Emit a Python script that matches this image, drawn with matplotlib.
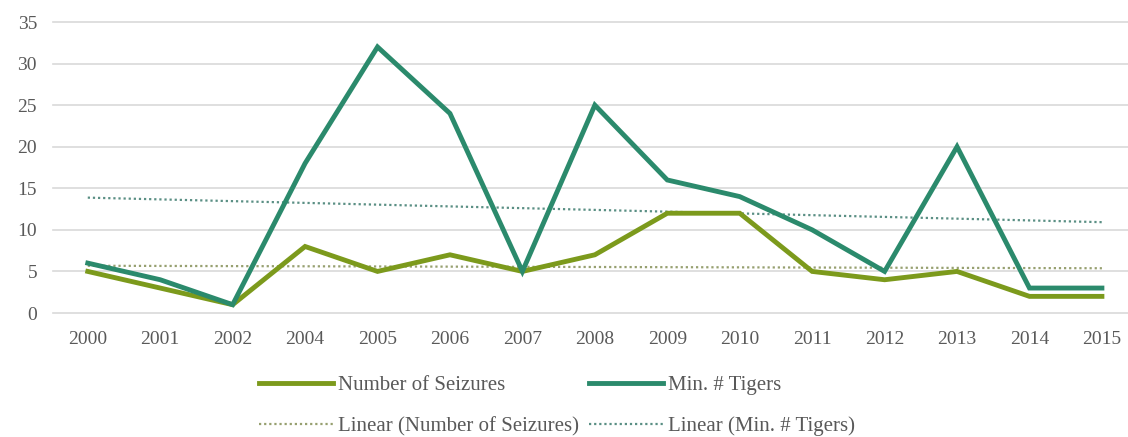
import matplotlib
matplotlib.use("Agg")
import matplotlib.pyplot as plt
import numpy as np

years = ["2000", "2001", "2002", "2004", "2005", "2006", "2007", "2008",
         "2009", "2010", "2011", "2012", "2013", "2014", "2015"]
seizures = [5, 3, 1, 8, 5, 7, 5, 7, 12, 12, 5, 4, 5, 2, 2]
tigers = [6, 4, 1, 18, 32, 24, 5, 25, 16, 14, 10, 5, 20, 3, 3]
y_ticks = [0, 5, 10, 15, 20, 25, 30, 35]

c_seiz = "#7c9a1c"
c_tig = "#2b8a6c"
c_seiz_trend = "#97a070"
c_tig_trend = "#5a8f84"
txt = "#595959"

plt.rcParams['font.family'] = ['Liberation Serif', 'DejaVu Serif']

fig = plt.figure(figsize=(11.28, 4.37), dpi=100)
ax = fig.add_axes([53 / 1128, 1 - 313 / 437, (1128 - 53) / 1128, (313 - 22) / 437])

x = np.arange(len(years))

def trend(vals):
    # excel style linear trendline on category index
    k, b = np.polyfit(x + 1, vals, 1)
    return k * (x + 1) + b

l1, = ax.plot(x, seizures, color=c_seiz, lw=3.5, label="Number of Seizures",
              solid_joinstyle='miter', zorder=3)
l2, = ax.plot(x, tigers, color=c_tig, lw=3.5, label="Min. # Tigers",
              solid_joinstyle='miter', zorder=4)
l3, = ax.plot(x, trend(seizures), color=c_seiz_trend, lw=1.6, ls=(0, (1, 1.3)),
              label="Linear (Number of Seizures)", zorder=2)
l4, = ax.plot(x, trend(tigers), color=c_tig_trend, lw=1.6, ls=(0, (1, 1.3)),
              label="Linear (Min. # Tigers)", zorder=2)

ax.set_xlim(-0.48, 14.36)
ax.set_ylim(0, 35)
ax.set_yticks(y_ticks)
ax.set_xticks(x)
ax.set_xticklabels(years)
ax.grid(axis='y', color="#d9d9d9", lw=1.2)
ax.set_axisbelow(True)
for gl in ax.get_ygridlines():
    gl.set_clip_on(False)
for s in ax.spines.values():
    s.set_visible(False)
ax.tick_params(length=0, labelsize=14, colors=txt)
ax.tick_params(axis='x', pad=13)
ax.tick_params(axis='y', pad=11.5)

fig.legend(handles=[l1, l3, l2, l4], ncol=2, loc='center',
           bbox_to_anchor=(0.494, 1 - 406 / 437), frameon=False,
           fontsize=15, labelcolor=txt, handlelength=3.55, handletextpad=0.24,
           columnspacing=0.48, labelspacing=1.02, borderpad=0)

fig.savefig("out.png", dpi=100)
